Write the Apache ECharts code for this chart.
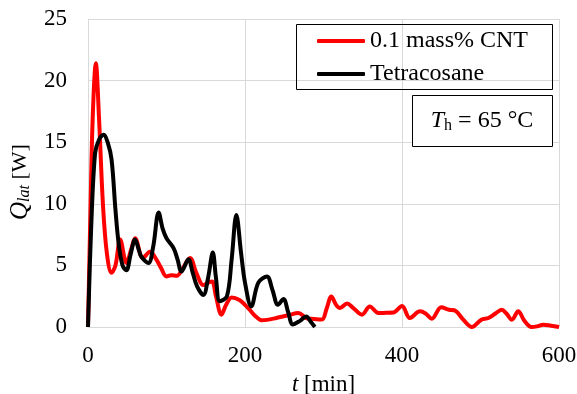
<!DOCTYPE html>
<html><head><meta charset="utf-8">
<script src="https://cdn.jsdelivr.net/npm/echarts@6/dist/echarts.min.js"></script>
<style>html,body{margin:0;padding:0;background:#fff}#c{width:577px;height:394px}</style>
</head><body><div id="c"></div>
<script>
var seriesNames = ['0.1 mass% CNT', 'Tetracosane'];
var xTicks = [0, 200, 400, 600];
var yTicks = [0, 5, 10, 15, 20, 25];
var cntT = [0,3,6,10,14,19,24,30,35,41,49,55,60,70,79,86,93,100,106,113,121,130,138,147,153,158,163,170,176,183,193,200,206,213,221,230,240,255,268,278,288,298,304,310,316,321,330,338,349,359,370,380,389,400,410,423,430,438,450,460,468,478,489,501,510,519,527,533,540,548,556,565,572,580,590,600];
var cntQ = [0,9,17,21.4,17,10,6,4.4,5,7.1,5.2,6.3,7.2,5.6,6.1,5.6,4.8,4.1,4.2,4.15,4.8,5.6,4.4,3.4,3.6,3.7,2.5,1.0,1.8,2.4,2.2,1.8,1.4,0.9,0.55,0.6,0.73,0.95,1.13,0.73,0.65,0.6,1.5,2.48,1.8,1.54,1.9,1.54,1.0,1.67,1.13,1.15,1.17,1.7,0.73,1.27,1.1,0.67,1.6,1.4,1.32,0.6,0,0.59,0.73,1.1,1.4,1.1,0.59,1.27,0.5,0,0.05,0.19,0.1,0];
var tetT = [0,4,9,14,20,25,30,35,39,44,49,54,60,65,68,77,83,90,95,100,109,114,119,128,133,139,147,153,159,163,168,177,183,189,195,200,208,217,228,235,242,249,255,261,270,278,284,289];
var tetQ = [0,8,14.1,15.2,15.6,15,13.6,9.5,6.8,5,4.6,5.8,7.1,6.2,5.7,5.2,6.5,9.3,8,7.2,6.4,5.5,4.5,5.5,4.5,3.3,2.6,4,6.05,4,2.1,2.5,5.5,9.1,6,3.6,1.67,3.6,4.1,3,1.8,2.27,1.2,0.2,0.5,0.86,0.4,0];

function pairs(a, b) { return a.map(function (v, i) { return [v, b[i]]; }); }
var FONT = '"Liberation Serif", "Times New Roman", serif';
var chart = echarts.init(document.getElementById('c'), null, {renderer: 'canvas'});
chart.setOption({
  animation: false,
  backgroundColor: '#fff',
  grid: {left: 88, right: 18, top: 19, bottom: 67, containLabel: false, outerBoundsMode: 'none'},
  xAxis: {
    type: 'value', min: xTicks[0], max: xTicks[xTicks.length - 1], interval: 200,
    axisLine: {show: true, lineStyle: {color: '#d9d9d9', width: 1}},
    axisTick: {show: false},
    splitLine: {show: true, lineStyle: {color: '#d9d9d9', width: 1}},
    axisLabel: {color: '#000', fontFamily: FONT, fontSize: 23, margin: 17, hideOverlap: false},
    name: '{i|t} [min]', nameLocation: 'middle', nameGap: 46,
    nameTextStyle: {color: '#000', fontFamily: FONT, fontSize: 23,
      rich: {i: {fontStyle: 'italic', fontFamily: FONT, fontSize: 23, color: '#000'}}}
  },
  yAxis: {
    type: 'value', min: yTicks[0], max: yTicks[yTicks.length - 1], interval: 5,
    axisLine: {show: true, lineStyle: {color: '#d9d9d9', width: 1}},
    axisTick: {show: false},
    splitLine: {show: true, lineStyle: {color: '#d9d9d9', width: 1}},
    axisLabel: {color: '#000', fontFamily: FONT, fontSize: 23, margin: 21},
    name: '{i|Q}{s|lat} [W]', nameLocation: 'middle', nameGap: 51, nameRotate: 90,
    nameTextStyle: {color: '#000', fontFamily: FONT, fontSize: 22, padding: [0, 18, 0, 0],
      rich: {
        i: {fontStyle: 'italic', fontFamily: FONT, fontSize: 25, color: '#000', lineHeight: 26},
        s: {fontStyle: 'italic', fontFamily: FONT, fontSize: 16, color: '#000', verticalAlign: 'bottom', lineHeight: 16}
      }}
  },
  legend: {
    orient: 'vertical', left: 317, top: 29, padding: 0, itemGap: 9,
    itemWidth: 48, itemHeight: 4, icon: 'roundRect',
    textStyle: {color: '#000', fontFamily: FONT, fontSize: 24, lineHeight: 24, padding: [0, 0, 0, 0]},
    data: seriesNames
  },
  graphic: [
    {type: 'rect', shape: {x: 296.5, y: 24.5, width: 256, height: 65}, style: {fill: 'none', stroke: '#000', lineWidth: 1}, z: 100},
    {type: 'rect', shape: {x: 412.5, y: 95.5, width: 140, height: 51}, style: {fill: '#fff', stroke: '#000', lineWidth: 1}, z: 100},
    {type: 'text', x: 482, y: 121, z: 101, style: {
      text: '{i|T}{s|h} = 65 °C', fill: '#000', fontFamily: FONT, fontSize: 24,
      align: 'center', verticalAlign: 'middle',
      rich: {
        i: {fontStyle: 'italic', fontFamily: FONT, fontSize: 24, lineHeight: 26, fill: '#000'},
        s: {fontFamily: FONT, fontSize: 16, lineHeight: 16, verticalAlign: 'bottom', fill: '#000'}
      }}}
  ],
  series: [
    {name: seriesNames[0], type: 'line', data: pairs(cntT, cntQ), showSymbol: false, symbol: 'none',
     smooth: 0.35, clip: false, lineStyle: {color: '#ff0000', width: 4}, itemStyle: {color: '#ff0000'}},
    {name: seriesNames[1], type: 'line', data: pairs(tetT, tetQ), showSymbol: false, symbol: 'none',
     smooth: 0.35, clip: false, lineStyle: {color: '#000000', width: 4}, itemStyle: {color: '#000000'}}
  ]
});
</script></body></html>
